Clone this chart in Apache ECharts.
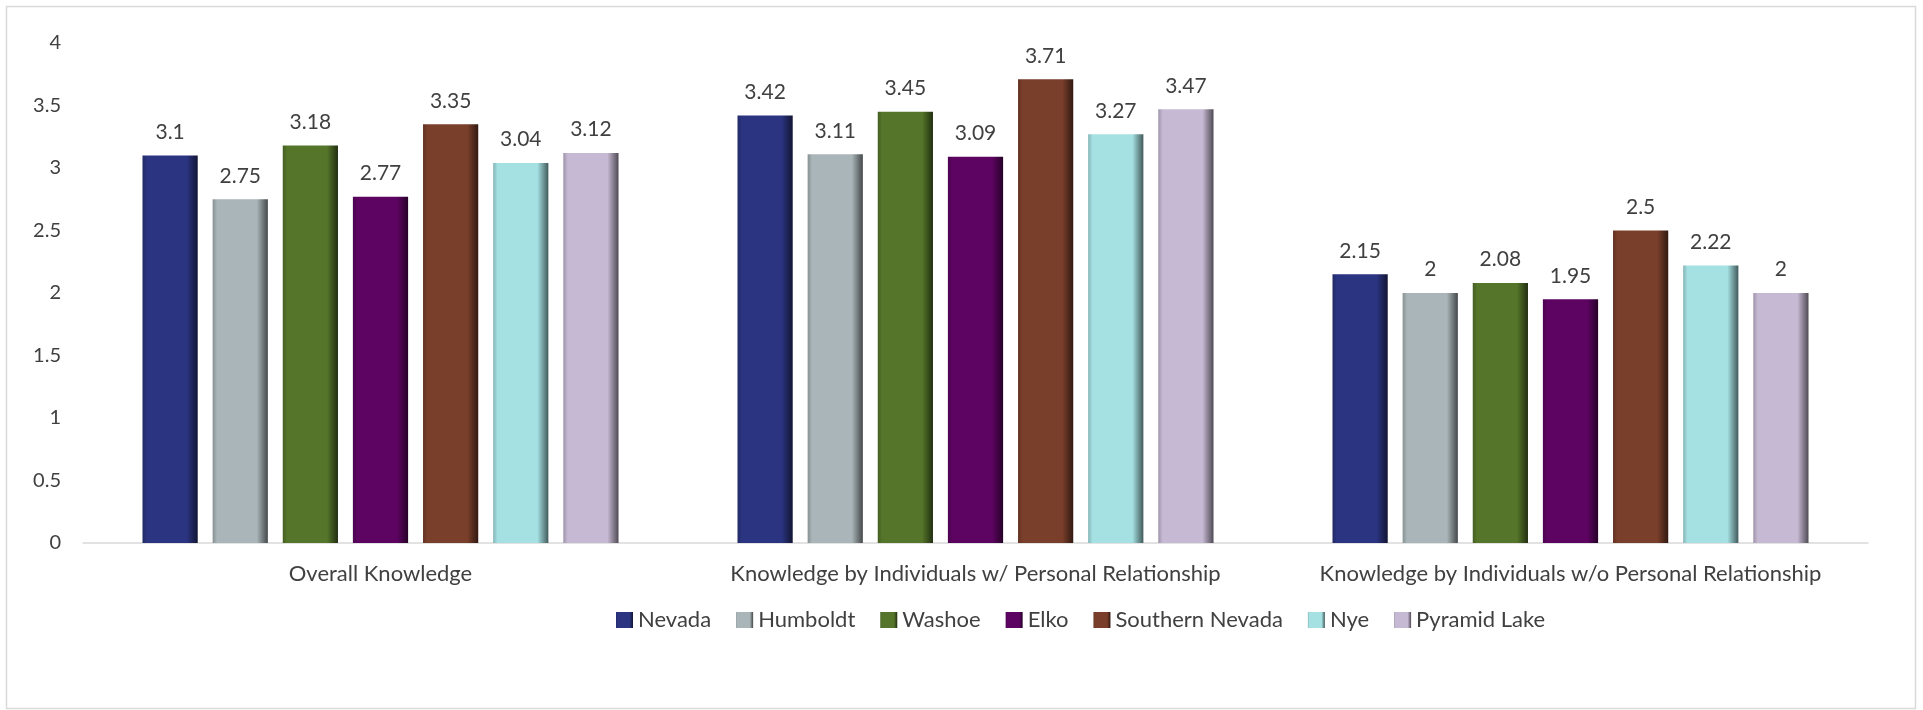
<!DOCTYPE html>
<html><head><meta charset="utf-8">
<script src="https://cdn.jsdelivr.net/npm/echarts@6/dist/echarts.min.js"></script>
<style>html,body{margin:0;padding:0;background:#fff}#c{width:1923px;height:710px}</style>
</head><body><div id="c"></div>
<script>
const categories = ['Overall Knowledge', 'Knowledge by Individuals w/ Personal Relationship', 'Knowledge by Individuals w/o Personal Relationship'];
const seriesNames = ['Nevada', 'Humboldt', 'Washoe', 'Elko', 'Southern Nevada', 'Nye', 'Pyramid Lake'];
const nevada = [3.1, 3.42, 2.15];
const humboldt = [2.75, 3.11, 2];
const washoe = [3.18, 3.45, 2.08];
const elko = [2.77, 3.09, 1.95];
const southernNevada = [3.35, 3.71, 2.5];
const nye = [3.04, 3.27, 2.22];
const pyramidLake = [3.12, 3.47, 2];
const yTicks = [0, 0.5, 1, 1.5, 2, 2.5, 3, 3.5, 4];

const values = [nevada, humboldt, washoe, elko, southernNevada, nye, pyramidLake];
const colors = ['#2b3480', '#a9b5b8', '#55762a', '#5d0462', '#7a3f2b', '#a5e1e3', '#c6b9d3'];

function shade(hex, f) {
  const n = parseInt(hex.slice(1), 16);
  let r = n >> 16, g = (n >> 8) & 255, b = n & 255;
  const t = f < 0 ? 0 : 255, p = Math.abs(f);
  r = Math.round((t - r) * p + r); g = Math.round((t - g) * p + g); b = Math.round((t - b) * p + b);
  return 'rgb(' + r + ',' + g + ',' + b + ')';
}
function grad(c) {
  return new echarts.graphic.LinearGradient(0, 0, 1, 0, [
    {offset: 0, color: shade(c, -0.2)},
    {offset: 0.08, color: c},
    {offset: 0.8, color: c},
    {offset: 1, color: shade(c, -0.6)}
  ]);
}

const font = 'Lato, "Open Sans", sans-serif';
const chart = echarts.init(document.getElementById('c'));
chart.setOption({
  animation: false,
  backgroundColor: '#fff',
  graphic: [{type: 'rect', shape: {x: 6.5, y: 6.5, width: 1909, height: 702}, style: {fill: 'none', stroke: '#d9d9d9', lineWidth: 1.5}, silent: true}],
  grid: {left: 83, right: 55, top: 43, bottom: 167},
  legend: {
    data: seriesNames, left: 611, top: 604, itemWidth: 17, itemHeight: 16, itemGap: 25,
    textStyle: {fontFamily: font, fontSize: 22, color: '#404040'},
    icon: 'rect'
  },
  xAxis: {
    type: 'category', data: categories,
    axisLine: {lineStyle: {color: '#d9d9d9', width: 1.5}},
    axisTick: {show: false},
    axisLabel: {fontFamily: font, fontSize: 22, color: '#404040', margin: 20, interval: 0}
  },
  yAxis: {
    type: 'value', min: 0, max: 4, interval: 0.5,
    splitLine: {show: false}, axisLine: {show: false}, axisTick: {show: false},
    axisLabel: {fontFamily: font, fontSize: 20, color: '#404040', margin: 22,
      formatter: v => yTicks.includes(v) ? String(v) : ''}
  },
  series: seriesNames.map((name, i) => ({
    name, type: 'bar', data: values[i],
    barGap: '27%', barCategoryGap: '20%',
    itemStyle: {color: grad(colors[i])},
    label: {show: true, position: 'top', distance: 13, fontFamily: font, fontSize: 21, color: '#404040'}
  }))
});
</script></body></html>
